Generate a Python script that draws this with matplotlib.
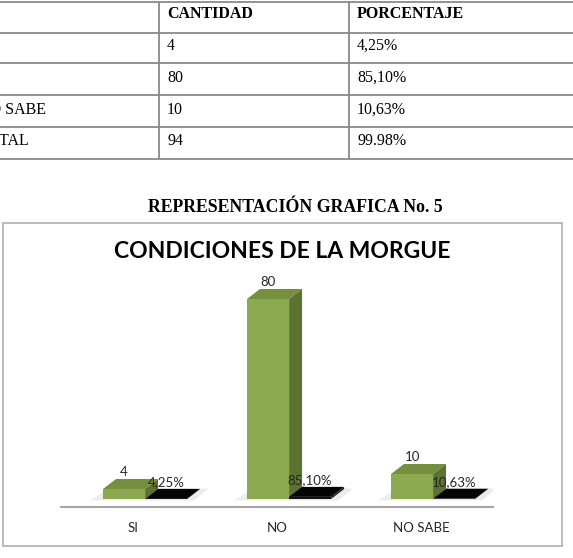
import matplotlib
matplotlib.use('Agg')
import matplotlib.pyplot as plt
from matplotlib.patches import Polygon, Rectangle

# ---- data ----
categories = ['SI', 'NO', 'NO SABE']
cantidad = [4, 80, 10]
porcentaje = [4.25, 85.10, 10.63]
cantidad_labels = ['4', '80', '10']
porcentaje_labels = ['4,25%', '85,10%', '10,63%']
table_header = ['', 'CANTIDAD', 'PORCENTAJE']
table_rows = [['SI', '4', '4,25%'],
              ['NO', '80', '85,10%'],
              ['NO SABE', '10', '10,63%'],
              ['TOTAL', '94', '99.98%']]
doc_title = 'REPRESENTACIÓN GRAFICA No. 5'
chart_title = 'CONDICIONES DE LA MORGUE'

W, H = 573, 558
fig = plt.figure(figsize=(W / 100, H / 100), dpi=100)
fig.patch.set_facecolor('white')

# background axes in pixel coordinates (for the table and titles)
bg = fig.add_axes([0, 0, 1, 1])
bg.set_xlim(0, W)
bg.set_ylim(H, 0)
bg.axis('off')

serif = 'Liberation Serif'
line_col = '#8a8a8a'
# table grid (the page is cropped on the left, like the reference)
row_y = [2, 33, 63, 95, 127, 159]
for y in row_y:
    bg.plot([0, W], [y, y], color=line_col, lw=1.3, solid_capstyle='butt')
for x in [159, 349]:
    bg.plot([x, x], [row_y[0], row_y[-1]], color=line_col, lw=1.3, solid_capstyle='butt')

col_x = [167, 357]
row_label_x = [-30, -30, -22, -21]
tfs = 11.5
bg.text(col_x[0], 14, table_header[1], fontfamily=serif, fontweight='bold', fontsize=tfs,
        ha='left', va='center', color='black')
bg.text(col_x[1], 14, table_header[2], fontfamily=serif, fontweight='bold', fontsize=tfs,
        ha='left', va='center', color='black')
text_y = [46, 78, 110, 141]
for row, y, lx in zip(table_rows, text_y, row_label_x):
    bg.text(lx, y, row[0], fontfamily=serif, fontsize=tfs, ha='left', va='center', color='black')
    bg.text(col_x[0], y, row[1], fontfamily=serif, fontsize=tfs, ha='left', va='center', color='black')
    bg.text(col_x[1], y, row[2], fontfamily=serif, fontsize=tfs, ha='left', va='center', color='black')

bg.text(295, 207, doc_title, fontfamily=serif, fontweight='bold', fontsize=12.8,
        ha='center', va='center', color='black')

# chart frame
bg.add_patch(Rectangle((3, 223), 559, 323, facecolor='white', edgecolor='#b5b5b5', lw=1.3))
bg.text(282, 252, chart_title, fontfamily='Lato', fontweight='bold', fontsize=16.5,
        ha='center', va='center', color='black')

# ---- chart axes ----
left_px, right_px, bottom_px, top_px = 61, 493, 507, 280
ax = fig.add_axes([left_px / W, 1 - bottom_px / H, (right_px - left_px) / W,
                   (bottom_px - top_px) / H])
ax.patch.set_alpha(0)
ax.set_xlim(-0.5, 2.5)
ax.set_ylim(-3.2, 87.6)
for s in ['top', 'right', 'left']:
    ax.spines[s].set_visible(False)
ax.spines['bottom'].set_color('#a6a6a6')
ax.spines['bottom'].set_linewidth(1.5)
ax.set_yticks([])
ax.set_xticks(range(len(categories)))
ax.set_xticklabels(categories, fontfamily='Lato', fontsize=9.5, color='#262626')
ax.tick_params(axis='x', length=0, pad=11)

bw = 0.292      # bar width (category units)
g_off = -0.208  # green front-left offset from category centre
ddx = 0.09      # depth in x
ddy = 4.0       # depth in y

green_front, green_top, green_side = '#8ca94f', '#748f3e', '#5b7230'
black_front, black_top, black_side = '#111111', '#050505', '#222222'


def bar3d(x0, h, front, top, side):
    ax.bar(x0, h, width=bw, bottom=0, align='edge', color=front, edgecolor='none', zorder=3)
    ax.add_patch(Polygon([(x0, h), (x0 + bw, h), (x0 + bw + ddx, h + ddy), (x0 + ddx, h + ddy)],
                         closed=True, facecolor=top, edgecolor='none', zorder=3))
    ax.add_patch(Polygon([(x0 + bw, 0), (x0 + bw + ddx, ddy), (x0 + bw + ddx, h + ddy), (x0 + bw, h)],
                         closed=True, facecolor=side, edgecolor='none', zorder=3))


lab_font = dict(fontfamily='Lato', fontsize=9.5, color='#262626', zorder=5)
for i, (c, p) in enumerate(zip(cantidad, porcentaje)):
    xg = i + g_off
    # soft floor shadow
    ax.add_patch(Polygon([(xg - 0.09, -0.6), (xg + 2 * bw + 0.05, -0.6),
                          (xg + 2 * bw + ddx + 0.06, ddy + 0.2), (xg + ddx - 0.05, ddy + 0.2)],
                         closed=True, facecolor='#ececec', edgecolor='none', zorder=2))
    bar3d(xg, c, green_front, green_top, green_side)
    xb = xg + bw
    hb = p / 100.0
    bar3d(xb, hb, black_front, black_top, black_side)
    ax.text(xg + bw / 2, c + ddy + 0.4, cantidad_labels[i], ha='center', va='bottom', **lab_font)
    ax.text(xb + bw / 2, hb + ddy + 2.6, porcentaje_labels[i], ha='center', va='center', **lab_font)

fig.savefig('out.png', dpi=100, facecolor='white')
